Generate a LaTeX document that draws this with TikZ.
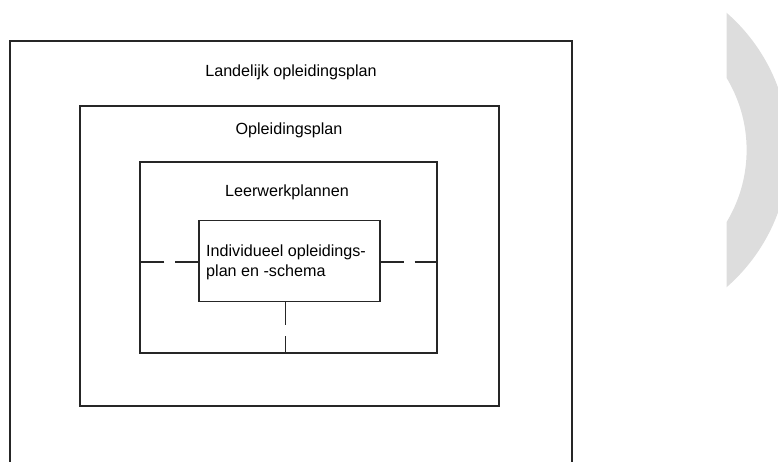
\documentclass[tikz,border=0pt]{standalone}
\usepackage{fontspec}
\setmainfont{Liberation Sans}
\definecolor{ringgray}{HTML}{DDDDDD}
\begin{document}
\begin{tikzpicture}[x=1bp,y=-1bp]
        \tikzstyle{plan}=[rectangle,draw=black!85,line width=1.2bp,inner sep=0pt]
        \tikzstyle{txt}=[inner sep=0pt,font=\fontsize{16.2}{20}\selectfont]
        \tikzstyle{link}=[draw=black!85,line width=1.2bp,dash pattern=on 23bp off 11bp]
       \useasboundingbox (0,0) rectangle (778,462);
       \clip (0,0) rectangle (778,462);
       \begin{scope}
         \node [plan,minimum width=562bp,minimum height=470bp] (lop) at (291,276) {};
         \node [plan,minimum width=419bp,minimum height=300bp] (op) at (289.5,256) {};
         \node [plan,minimum width=297bp,minimum height=191bp] (lwp) at (288.5,257.5) {};
         \node [plan,minimum width=181bp,minimum height=81bp] (iop) at (289.5,261) {};
         \node [txt] (tlop) at (291,72) {Landelijk opleidingsplan};
         \node [txt] (top) at (289,130) {Opleidingsplan};
         \node [txt] (tlwp) at (287,192) {Leerwerkplannen};
         \node [txt,align=left,anchor=west] (tiop) at (206,262) {Individueel opleidings-\\plan en -schema};
         \path[link] ([yshift=-1bp]iop.west) -- ([yshift=-1bp]iop.west -| lwp.west);
         \path[link] ([yshift=-1bp]iop.east) -- ([yshift=-1bp]iop.east -| lwp.east);
         \path[link] ([xshift=-4bp]iop.south) -- ([xshift=-4bp]iop.south |- lwp.south);
        \end{scope}
       % grijze ring rechts
       \begin{scope}
         \clip (726.7,0) rectangle (778,462);
         \fill[ringgray,even odd rule] (607,150) circle[radius=182bp] (607,150) circle[radius=139.6bp];
        \end{scope}
      \end{tikzpicture}
\end{document}
